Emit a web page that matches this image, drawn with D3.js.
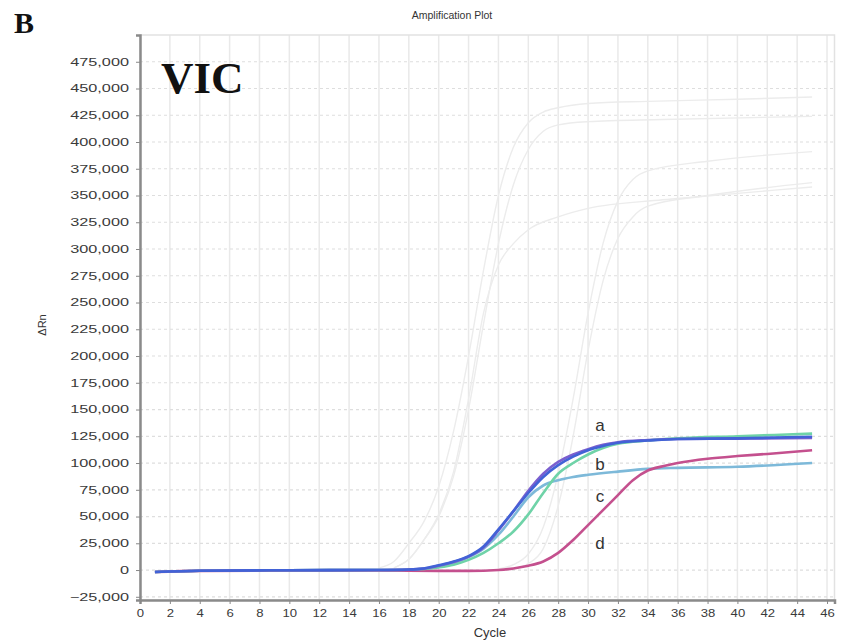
<!DOCTYPE html>
<html><head><meta charset="utf-8">
<script src="https://cdn.jsdelivr.net/npm/d3@7"></script>
<style>body{margin:0;background:#fff}svg{display:block}</style>
</head><body>
<script>
// ---- data ----
const xTicks = d3.range(0, 47, 2);
const yTicks = d3.range(-25000, 475001, 25000);
const title = "Amplification Plot";
const xLabel = "Cycle";
const yLabel = "ΔRn";

// colored curves [cycle, ΔRn]
const curveA1 = [[1,-1800],[4,-600],[10,-200],[16,0],[18,500],[19,1500],[20,4500],[21,8000],[22,13000],[23,22000],[24,38000],[25,55000],[26,72000],[27,87000],[28,98000],[29,106000],[30,112000],[31,116000],[32,119000],[34,121000],[36,122500],[40,123000],[45,124500]];
const curveA2 = [[1,-1800],[4,-600],[10,-200],[16,0],[18,400],[19,1300],[20,4000],[21,7500],[22,12500],[23,21000],[24,37000],[25,55000],[26,74000],[27,90000],[28,101000],[29,108000],[30,113000],[31,117000],[32,119500],[34,121500],[36,122500],[40,122800],[45,123500]];
const curveB = [[1,-1800],[4,-600],[10,-200],[16,0],[18,300],[20,3000],[21,6500],[22,12000],[23,20000],[24,33000],[25,50000],[26,68000],[27,79000],[28,84000],[29,87000],[30,89000],[32,92000],[34,94500],[36,95500],[40,96500],[45,100000]];
const curveC = [[1,-1800],[4,-600],[10,-200],[16,0],[18,300],[20,2500],[21,5000],[22,9500],[23,16000],[24,25000],[25,36000],[26,52000],[27,72000],[28,90000],[29,100000],[30,108000],[31,114000],[32,118000],[34,121000],[36,123000],[40,125000],[45,127500]];
const curveD = [[1,-1800],[4,-800],[10,-500],[16,-500],[20,-800],[22,-800],[24,0],[25,1500],[26,4000],[27,8000],[28,16000],[29,28000],[30,42000],[31,56000],[32,70000],[33,84000],[34,93000],[35,97000],[36,100000],[38,104000],[40,106500],[42,108500],[45,112000]];

// faint background curves (other samples)
const gray1 = [[16,2000],[17,8000],[18,25000],[19,45000],[20,78000],[21,130000],[22,200000],[23,280000],[24,350000],[25,395000],[26,418000],[27,428000],[28,432000],[30,436000],[34,438000],[40,440000],[45,442000]];
const gray2 = [[17,2000],[18,10000],[19,28000],[20,50000],[21,88000],[22,150000],[23,230000],[24,305000],[25,360000],[26,393000],[27,410000],[28,416000],[30,419000],[35,421000],[45,424000]];
const gray3 = [[17,2000],[18,10000],[19,28000],[20,52000],[21,92000],[22,160000],[23,240000],[24,285000],[25,305000],[26,318000],[28,330000],[30,338000],[35,346000],[40,352000],[45,358000]];
const gray4 = [[24,1000],[25,5000],[26,15000],[27,40000],[28,90000],[29,160000],[30,240000],[31,305000],[32,345000],[33,365000],[34,373000],[38,382000],[45,391000]];
const gray5 = [[25,1000],[26,6000],[27,20000],[28,60000],[29,125000],[30,205000],[31,270000],[32,310000],[33,330000],[34,340000],[38,350000],[45,362000]];

const colored = [
  {data: curveB, color: "#7db9d9"},
  {data: curveD, color: "#c4508e"},
  {data: curveC, color: "#6fd3a8"},
  {data: curveA2, color: "#7b5fcf"},
  {data: curveA1, color: "#4262d6"}
];
const grays = [gray1, gray2, gray3, gray4, gray5];
const curveLabels = [
  {t:"a", x:600, y:431},
  {t:"b", x:600, y:470},
  {t:"c", x:600, y:502},
  {t:"d", x:600, y:549}
];

// ---- chart ----
const W = 846, H = 642;
const L = 140, R = 834.5, T = 35, B = 600;
const svg = d3.select("body").append("svg").attr("width", W).attr("height", H);

const x = d3.scaleLinear().domain([0, 46.5]).range([L, R]);
const y = d3.scaleLinear().domain([-28000, 500000]).range([B, T]);

// grid
const grid = svg.append("g");
grid.selectAll("line.v").data(xTicks.filter(d => d > 0)).join("line")
  .attr("x1", d => x(d)).attr("x2", d => x(d)).attr("y1", T).attr("y2", B)
  .attr("stroke", "#e9e9e9").attr("stroke-width", 1.5);
grid.selectAll("line.h").data(yTicks).join("line")
  .attr("x1", L).attr("x2", R).attr("y1", d => y(d)).attr("y2", d => y(d))
  .attr("stroke", "#dedede").attr("stroke-width", 1.2).attr("stroke-dasharray", "3,3");
// frame
svg.append("rect").attr("x", L).attr("y", T).attr("width", R - L).attr("height", B - T)
  .attr("fill", "none").attr("stroke", "#e2e2e2").attr("stroke-width", 1.5);

const line = d3.line().x(d => x(d[0])).y(d => y(d[1])).curve(d3.curveMonotoneX);

svg.append("g").selectAll("path").data(grays).join("path")
  .attr("d", line).attr("fill", "none").attr("stroke", "#ececec").attr("stroke-width", 1.4);

svg.append("g").selectAll("path").data(colored).join("path")
  .attr("d", d => line(d.data)).attr("fill", "none")
  .attr("stroke", d => d.color).attr("stroke-width", 2.6).attr("stroke-linejoin", "round");

// axes
const fmt = d3.format(",");
const yAxis = svg.append("g").attr("transform", `translate(${L},0)`)
  .call(d3.axisLeft(y).tickValues(yTicks).tickFormat(fmt).tickSize(4).tickPadding(6));
yAxis.select(".domain").attr("stroke", "#8a8a8a").attr("stroke-width", 2.5);
yAxis.selectAll(".tick line").attr("stroke", "#888");
yAxis.selectAll(".tick text")
  .attr("x", -11 / 1.55).attr("transform", "scale(1.55,1)")
  .attr("font-family", "Arial, 'Liberation Sans', sans-serif").attr("font-size", 10.5).attr("fill", "#3a3a3a");

const xAxis = svg.append("g").attr("transform", `translate(0,${B})`)
  .call(d3.axisBottom(x).tickValues(xTicks).tickFormat(d3.format("d")).tickSize(4).tickPadding(6));
xAxis.select(".domain").attr("stroke", "#8a8a8a").attr("stroke-width", 2.5);
xAxis.selectAll(".tick line").attr("stroke", "#888");
xAxis.selectAll(".tick text").attr("transform", "scale(1.25,1)")
  .attr("x", 0)
  .attr("font-family", "Arial, 'Liberation Sans', sans-serif").attr("font-size", 10.5).attr("fill", "#3a3a3a");

// texts
svg.append("text").attr("x", 452).attr("y", 19).attr("text-anchor", "middle")
  .attr("font-family", "Arial, 'Liberation Sans', sans-serif").attr("font-size", 10.5).attr("fill", "#333").text(title);
svg.append("text").attr("x", 490).attr("y", 637).attr("text-anchor", "middle")
  .attr("font-family", "Arial, 'Liberation Sans', sans-serif").attr("font-size", 13).attr("fill", "#333").text(xLabel);
svg.append("text").attr("transform", "translate(46,325) rotate(-90)").attr("text-anchor", "middle")
  .attr("font-family", "Arial, 'Liberation Sans', sans-serif").attr("font-size", 11).attr("fill", "#333").text(yLabel);
svg.append("text").attr("x", 14).attr("y", 33)
  .attr("font-family", "'Liberation Serif', 'Times New Roman', serif").attr("font-weight", "bold").attr("font-size", 30).attr("fill", "#111").text("B");
svg.append("text").attr("x", 161).attr("y", 93)
  .attr("font-family", "'Liberation Serif', 'Times New Roman', serif").attr("font-weight", "bold").attr("font-size", 45).attr("fill", "#111").text("VIC");
svg.append("g").selectAll("text").data(curveLabels).join("text")
  .attr("x", d => d.x).attr("y", d => d.y).attr("text-anchor", "middle")
  .attr("font-family", "Arial, 'Liberation Sans', sans-serif").attr("font-size", 17).attr("fill", "#333").text(d => d.t);
</script>
</body></html>
